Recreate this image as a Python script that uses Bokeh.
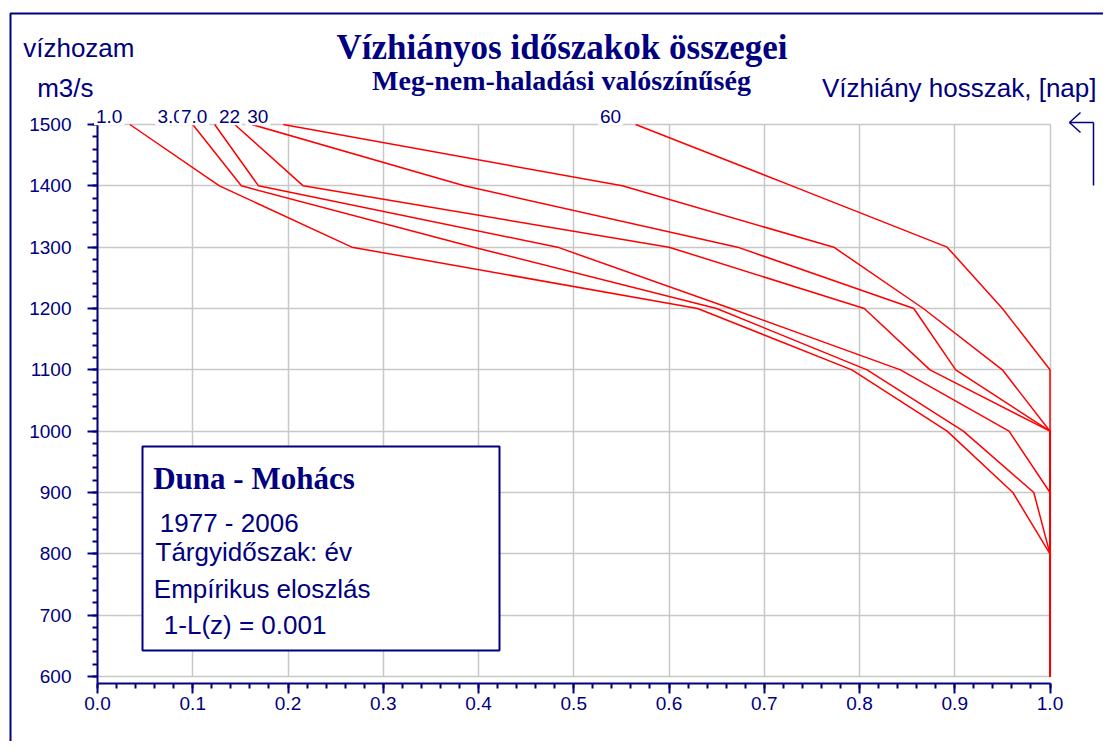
import numpy as np
from bokeh.plotting import figure
from bokeh.models import (Range1d, Label, BoxAnnotation, Arrow, FixedTicker,
                          PrintfTickFormatter, Grid)
from bokeh.embed import file_html
from bokeh.resources import INLINE

# ---------------- data ----------------
levels = [1500, 1400, 1300, 1200, 1100, 1000, 900, 800, 700, 600]
curve_1 = [0.034, 0.128, 0.267, 0.630, 0.792, 0.892, 0.961, 1.0, 1.0, 1.0]
curve_3 = [0.100, 0.151, 0.395, 0.650, 0.808, 0.909, 0.983, 1.0, 1.0, 1.0]
curve_7 = [0.123, 0.169, 0.483, 0.665, 0.843, 0.957, 1.0, 1.0, 1.0, 1.0]
curve_22 = [0.144, 0.216, 0.600, 0.805, 0.874, 1.0, 1.0, 1.0, 1.0, 1.0]
curve_30 = [0.162, 0.385, 0.672, 0.857, 0.901, 1.0, 1.0, 1.0, 1.0, 1.0]
curve_x = [0.195, 0.551, 0.773, 0.867, 0.950, 1.0, 1.0, 1.0, 1.0, 1.0]
curve_60 = [0.565, 0.729, 0.892, 0.950, 1.0, 1.0, 1.0, 1.0, 1.0, 1.0]
curves = [curve_1, curve_3, curve_7, curve_22, curve_30, curve_x, curve_60]
curve_labels = ["1.0", "3.0", "7.0", "22", "30", "60"]

x_ticks = [0.0, 0.1, 0.2, 0.3, 0.4, 0.5, 0.6, 0.7, 0.8, 0.9, 1.0]
y_ticks = [600, 700, 800, 900, 1000, 1100, 1200, 1300, 1400, 1500]

title_text = "Vízhiányos időszakok összegei"
subtitle_text = "Meg-nem-haladási valószínűség"
y_title_1 = "vízhozam"
y_title_2 = "m3/s"
curves_title = "Vízhiány hosszak, [nap]"
box_title = "Duna - Mohács"
box_lines = ["1977 - 2006", "Tárgyidőszak: év", "Empírikus eloszlás", "1-L(z) = 0.001"]

# ---------------- layout ----------------
NAVY = "#000080"
W, H = 1103, 741
# pixel placement of the plot area: x=0 -> px 97, x=1 -> px 1049.5 ; y=1500 -> py 124, y=600 -> py 676
PX0, PXS = 97.0, 952.5
PY0, PYS = 124.0, 552.0 / 900.0
AXIS_Y = 1500 - (683 - PY0) / PYS      # x axis sits a little below 600


def sx(px):
    return px


def sy(py):
    return H - py


def base_fix(size_px):
    # renderer places the alphabetic baseline slightly low; lift it
    return 0.3 * size_px


p = figure(width=W, height=H, output_backend="svg", toolbar_location=None,
           x_range=Range1d(-PX0 / PXS, (W - PX0) / PXS),
           y_range=Range1d(1500 - (H - PY0) / PYS, 1500 + PY0 / PYS),
           min_border_left=0, min_border_right=0, min_border_top=0, min_border_bottom=0)
p.title.visible = False
p.outline_line_color = None
p.background_fill_color = "white"
p.border_fill_color = "white"

p.xaxis.ticker = FixedTicker(ticks=x_ticks, minor_ticks=list(np.round(np.arange(0, 1.0001, 0.02), 2)))
p.yaxis.ticker = FixedTicker(ticks=y_ticks, minor_ticks=list(range(600, 1501, 20)))
p.xaxis.formatter = PrintfTickFormatter(format="%.1f")
p.yaxis.formatter = PrintfTickFormatter(format="%d")
p.xaxis.fixed_location = AXIS_Y
p.yaxis.fixed_location = 0
p.xaxis.bounds = (0, 1)
p.yaxis.bounds = (AXIS_Y, 1500)

for ax in (p.xaxis[0], p.yaxis[0]):
    ax.axis_line_color = NAVY
    ax.axis_line_width = 2
    ax.major_tick_line_color = NAVY
    ax.major_tick_line_width = 2
    ax.minor_tick_line_color = NAVY
    ax.minor_tick_line_width = 2
    ax.major_tick_in = 0
    ax.minor_tick_in = 0
    ax.major_tick_out = 10
    ax.minor_tick_out = 5
    ax.major_label_text_color = NAVY
    ax.major_label_text_font = "Liberation Sans"
    ax.major_label_text_font_size = "19px"
p.xaxis.major_label_standoff = 3
p.yaxis.major_label_standoff = 16

p.xgrid.ticker = FixedTicker(ticks=x_ticks)
p.ygrid.ticker = FixedTicker(ticks=y_ticks)
p.xgrid.bounds = (0, 1)
p.ygrid.bounds = (600, 1500)
has_cb = "cross_bounds" in Grid.properties()
if has_cb:
    p.xgrid.cross_bounds = (600, 1500)
    p.ygrid.cross_bounds = (0, 1)
for g in (p.xgrid[0], p.ygrid[0]):
    g.grid_line_color = "#c8c8c8"
    g.grid_line_width = 1.5

if not has_cb:
    for l, r, t, b in [(-10, 97, -10, 800), (1050, 1300, -10, 800),
                       (-10, 1300, -10, 123), (-10, 1300, 677, 800)]:
        p.add_layout(BoxAnnotation(left=sx(l), right=sx(r), top=sy(t), bottom=sy(b),
                                   left_units="screen", right_units="screen",
                                   top_units="screen", bottom_units="screen",
                                   fill_color="white", fill_alpha=1.0, line_color=None,
                                   level="underlay"))

for c in curves:
    p.line(x=c, y=levels, line_color="red", line_width=1.5)

# curve labels sitting on the 1500 line
label_left = [95.5, 157, 180.5, 218.5, 246.7, 599.5]   # page px
for txt, lx in zip(curve_labels, label_left):
    p.add_layout(Label(x=sx(lx - 2), y=sy(124) + base_fix(19) + 2,
                       x_units="screen", y_units="screen",
                       text=txt, text_align="left", text_baseline="alphabetic",
                       text_font="Liberation Sans", text_font_size="19px",
                       text_color=NAVY, background_fill_color="white",
                       background_fill_alpha=1.0, padding=2))

# outer chart border
p.add_layout(BoxAnnotation(left=sx(10), right=sx(1300), top=sy(13), bottom=sy(900),
                           left_units="screen", right_units="screen",
                           top_units="screen", bottom_units="screen",
                           fill_color=None, line_color=NAVY, line_alpha=1.0, line_width=2))

# info box
p.add_layout(BoxAnnotation(left=sx(142), right=sx(499), top=sy(446), bottom=sy(650),
                           left_units="screen", right_units="screen",
                           top_units="screen", bottom_units="screen",
                           fill_color="white", fill_alpha=1.0,
                           line_color=NAVY, line_alpha=1.0, line_width=2))


def add_text(text, px, py, size, align="left", serif=False, bold=False):
    p.add_layout(Label(x=sx(px), y=sy(py) + base_fix(size), x_units="screen", y_units="screen",
                       text=text, text_align=align, text_baseline="alphabetic",
                       text_font="Liberation Serif" if serif else "Liberation Sans",
                       text_font_style="bold" if bold else "normal",
                       text_font_size=f"{size}px", text_color=NAVY))


add_text(title_text, 561.5, 57, 35, align="center", serif=True, bold=True)
add_text(subtitle_text, 561, 88.5, 28, align="center", serif=True, bold=True)
add_text(y_title_1, 22.7, 55, 26)
add_text(y_title_2, 36.7, 95, 26)
add_text(curves_title, 1096, 95, 26, align="right")
add_text(box_title, 152.7, 487, 31, serif=True, bold=True)
box_pos = [(159.3, 530), (155, 559.5), (153.3, 596), (163.3, 632)]
for t, (bx, by) in zip(box_lines, box_pos):
    add_text(t, bx, by, 26)

# bent arrow at top right
segs = [((1069, 122), (1093, 122)), ((1093, 122), (1093, 185)),
        ((1069, 122), (1080, 112)), ((1069, 122), (1080, 132))]
for (x0, y0), (x1, y1) in segs:
    p.add_layout(Arrow(x_start=sx(x0), y_start=sy(y0), x_end=sx(x1), y_end=sy(y1),
                       start_units="screen", end_units="screen", start=None, end=None,
                       line_color=NAVY, line_width=1.5))

open("out.html", "w").write(file_html(p, INLINE))
